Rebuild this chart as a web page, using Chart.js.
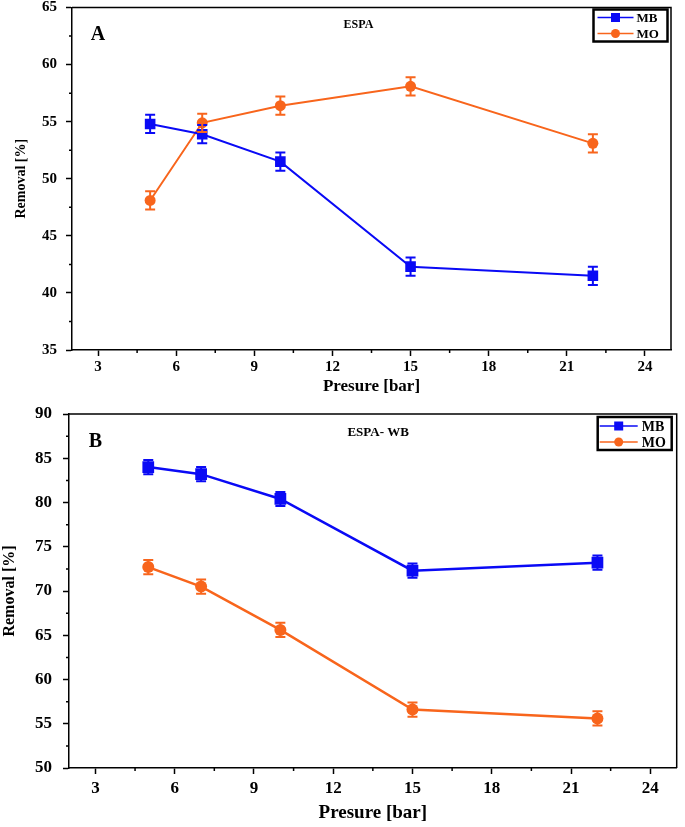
<!DOCTYPE html>
<html>
<head>
<meta charset="utf-8">
<script src="https://cdn.jsdelivr.net/npm/chart.js@4.4.0/dist/chart.umd.min.js"></script>
<style>
  html, body { margin: 0; padding: 0; background: #fff; }
  #wrap { width: 685px; height: 827px; }
  canvas { display: block; }
</style>
</head>
<body>
<div id="wrap">
  <canvas id="chartA" width="685" height="400"></canvas>
  <canvas id="chartB" width="685" height="427"></canvas>
</div>
<script>
// data
const pressure = [5, 7, 10, 15, 22];
const xTicks = [3, 6, 9, 12, 15, 18, 21, 24];
const xMinor = [4.5, 7.5, 10.5, 13.5, 16.5, 19.5, 22.5];

// panel A - ESPA
const mbA = [54.8, 53.9, 51.5, 42.3, 41.5];
const moA = [48.1, 54.9, 56.4, 58.1, 53.1];
const errA = [0.8, 0.8, 0.8, 0.8, 0.8];
const yMinorA = [37.5, 42.5, 47.5, 52.5, 57.5, 62.5];

// panel B - ESPA- WB
const mbB = [84.0, 83.2, 80.4, 72.3, 73.2];
const moB = [72.7, 70.5, 65.6, 56.6, 55.6];
const errB = [0.8, 0.8, 0.8, 0.8, 0.8];
const yMinorB = [52.5, 57.5, 62.5, 67.5, 72.5, 77.5, 82.5, 87.5];

const BLUE = '#0a0af5';
const ORANGE = '#f8651c';
const SERIF = '"Liberation Serif", "Times New Roman", serif';

Chart.defaults.font.family = SERIF;
Chart.defaults.color = '#000';

const pts = (ys) => ys.map((v, i) => ({ x: pressure[i], y: v }));

// vertical error bars with caps
const errorBars = {
  id: 'errorBars',
  afterDatasetsDraw(chart) {
    const ctx = chart.ctx, ys = chart.scales.y;
    chart.data.datasets.forEach((ds, di) => {
      const meta = chart.getDatasetMeta(di);
      ctx.save();
      ctx.strokeStyle = ds.borderColor;
      ctx.lineWidth = 2;
      meta.data.forEach((p, i) => {
        const v = ds.data[i].y, e = ds.errors[i];
        const y1 = ys.getPixelForValue(v + e), y2 = ys.getPixelForValue(v - e);
        ctx.beginPath();
        ctx.moveTo(p.x, y1); ctx.lineTo(p.x, y2);
        ctx.moveTo(p.x - 5, y1); ctx.lineTo(p.x + 5, y1);
        ctx.moveTo(p.x - 5, y2); ctx.lineTo(p.x + 5, y2);
        ctx.stroke();
      });
      ctx.restore();
    });
  }
};

// frame, minor ticks, panel letter, inner title, boxed legend
const decor = {
  id: 'decor',
  afterDraw(chart, args, o) {
    const { ctx, chartArea: a } = chart;
    const xs = chart.scales.x, ys = chart.scales.y;
    ctx.save();
    ctx.strokeStyle = '#000';
    ctx.lineWidth = 1.5;
    ctx.beginPath();
    ctx.moveTo(a.left, a.top); ctx.lineTo(a.right, a.top); ctx.lineTo(a.right, a.bottom);
    o.minorX.forEach(v => { const px = xs.getPixelForValue(v); ctx.moveTo(px, a.bottom); ctx.lineTo(px, a.bottom + 3); });
    o.minorY.forEach(v => { const py = ys.getPixelForValue(v); ctx.moveTo(a.left, py); ctx.lineTo(a.left - 3, py); });
    ctx.stroke();

    ctx.fillStyle = '#000';
    ctx.textAlign = 'center';
    ctx.textBaseline = 'middle';
    ctx.font = 'bold ' + o.letterSize + 'px ' + SERIF;
    ctx.fillText(o.letter, xs.getPixelForValue(o.letterAt[0]), ys.getPixelForValue(o.letterAt[1]));
    ctx.font = 'bold ' + o.titleSize + 'px ' + SERIF;
    ctx.fillText(o.title, xs.getPixelForValue(o.titleAt[0]), ys.getPixelForValue(o.titleAt[1]));

    const L = o.legend;
    const bx = a.right - L.dx - L.w, by = a.top + L.dy;
    ctx.fillStyle = '#fff';
    ctx.fillRect(bx, by, L.w, L.h);
    ctx.lineWidth = 2.5;
    ctx.strokeStyle = '#000';
    ctx.strokeRect(bx, by, L.w, L.h);
    chart.data.datasets.forEach((ds, i) => {
      const ly = by + L.rows[i];
      ctx.strokeStyle = ds.borderColor;
      ctx.fillStyle = ds.borderColor;
      ctx.lineWidth = 1.5;
      ctx.beginPath();
      ctx.moveTo(bx + L.x0, ly); ctx.lineTo(bx + L.x1, ly);
      ctx.stroke();
      const mx = (L.x0 + L.x1) / 2 + bx;
      if (ds.pointStyle === 'rect') ctx.fillRect(mx - 4.5, ly - 4.5, 9, 9);
      else { ctx.beginPath(); ctx.arc(mx, ly, 4.5, 0, Math.PI * 2); ctx.fill(); }
      ctx.fillStyle = '#000';
      ctx.textAlign = 'left';
      ctx.font = 'bold ' + L.font + 'px ' + SERIF;
      ctx.fillText(ds.label, bx + L.textX, ly + 1);
    });
    ctx.restore();
  }
};

function makeChart(id, p) {
  return new Chart(document.getElementById(id), {
    type: 'line',
    data: {
      datasets: [
        { label: 'MB', data: pts(p.mb), errors: p.err, borderColor: BLUE, backgroundColor: BLUE,
          borderWidth: p.lw, pointStyle: 'rect', pointRadius: p.rectR, pointBorderWidth: 0 },
        { label: 'MO', data: pts(p.mo), errors: p.err, borderColor: ORANGE, backgroundColor: ORANGE,
          borderWidth: p.lw, pointStyle: 'circle', pointRadius: p.dotR, pointBorderWidth: 0 }
      ]
    },
    options: {
      responsive: false,
      animation: false,
      devicePixelRatio: 1,
      layout: { padding: p.pad },
      plugins: {
        legend: { display: false },
        tooltip: { enabled: false },
        decor: p.decor
      },
      scales: {
        x: {
          type: 'linear', min: 2, max: 25,
          afterBuildTicks: s => { s.ticks = xTicks.map(v => ({ value: v })); },
          afterFit: s => { s.height = p.xH; s.paddingLeft = 0; s.paddingRight = 0; },
          grid: { drawOnChartArea: false, tickLength: 6, tickColor: '#000', tickWidth: 1.5 },
          border: { display: true, color: '#000', width: 1.5 },
          ticks: { padding: p.xPad, font: { size: p.tickSize, weight: 'bold' }, maxRotation: 0 },
          title: { display: true, text: 'Presure [bar]', font: { size: p.xTitleSize, weight: 'bold' },
                   padding: { top: 0, bottom: p.xTitlePad } }
        },
        y: {
          min: p.yMin, max: p.yMax,
          afterFit: s => { s.width = p.yW; s.paddingTop = 0; s.paddingBottom = 0; },
          grid: { drawOnChartArea: false, tickLength: 6, tickColor: '#000', tickWidth: 1.5 },
          border: { display: true, color: '#000', width: 1.5 },
          ticks: { stepSize: 5, padding: p.yPad, font: { size: p.tickSize, weight: 'bold' } },
          title: { display: true, text: 'Removal [%]', font: { size: p.yTitleSize, weight: 'bold' },
                   padding: { top: p.yTitlePad, bottom: 0 } }
        }
      }
    },
    plugins: [errorBars, decor]
  });
}

makeChart('chartA', {
  mb: mbA, mo: moA, err: errA, lw: 2, rectR: 7.5, dotR: 5.5,
  pad: { top: 5, right: 14, bottom: 0, left: 0 },
  xH: 50, yW: 72, xPad: 2, yPad: 9, tickSize: 15,
  xTitleSize: 17, xTitlePad: 3, yTitleSize: 14, yTitlePad: 13,
  yMin: 35, yMax: 65,
  decor: {
    minorX: xMinor, minorY: yMinorA,
    letter: 'A', letterSize: 20, letterAt: [3, 62.6],
    title: 'ESPA', titleSize: 12, titleAt: [13, 63.5],
    legend: { w: 74, h: 32, dx: 3.5, dy: 2, rows: [8, 24], x0: 4, x1: 40, textX: 43, font: 13 }
  }
});

makeChart('chartB', {
  mb: mbB, mo: moB, err: errB, lw: 2.5, rectR: 8.3, dotR: 6,
  pad: { top: 14, right: 3, bottom: 0, left: 0 },
  xH: 59, yW: 69, xPad: 4, yPad: 11, tickSize: 17,
  xTitleSize: 19, xTitlePad: 3, yTitleSize: 16, yTitlePad: 0,
  yMin: 50, yMax: 90,
  decor: {
    minorX: xMinor, minorY: yMinorB,
    letter: 'B', letterSize: 20, letterAt: [3, 86.8],
    title: 'ESPA- WB', titleSize: 13, titleAt: [13.7, 87.9],
    legend: { w: 74, h: 33, dx: 5, dy: 3, rows: [9, 25], x0: 2, x1: 40, textX: 44, font: 14 }
  }
});
</script>
</body>
</html>
